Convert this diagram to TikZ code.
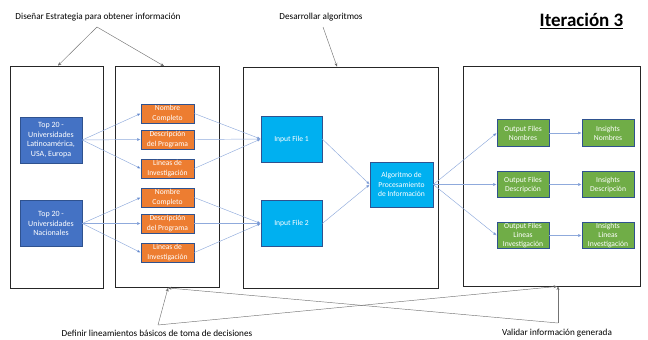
\documentclass[tikz,border=0pt]{standalone}
\usepackage{fontspec}
\setmainfont{Carlito}
\usepackage{tikz}
\usetikzlibrary{arrows.meta}
\definecolor{unicolor}{HTML}{4472C4}
\definecolor{edgecolor}{HTML}{2F528F}
\definecolor{fieldcolor}{HTML}{ED7D31}
\definecolor{inputcolor}{HTML}{00B0F0}
\definecolor{outcolor}{HTML}{70AD47}
\definecolor{flowcolor}{HTML}{8FAADC}

\begin{document}
\begin{tikzpicture}[x=1pt,y=-1pt,
  frame/.style={rectangle,draw=black!85,line width=0.9pt,inner sep=0pt},
  uni/.style={rectangle,draw=edgecolor,fill=unicolor,line width=0.6pt,text=white,align=center,minimum width=62pt,minimum height=46pt,inner sep=0pt,font=\fontsize{8}{9.4}\selectfont},
  field/.style={rectangle,draw=edgecolor,fill=fieldcolor,line width=0.6pt,text=white,align=center,minimum width=53pt,minimum height=19pt,inner sep=0pt,font=\fontsize{7.6}{9.2}\selectfont},
  input/.style={rectangle,draw=edgecolor,fill=inputcolor,line width=0.6pt,text=white,align=center,minimum width=61pt,minimum height=46pt,inner sep=0pt,font=\fontsize{7.6}{9.8}\selectfont},
  outbox/.style={rectangle,draw=edgecolor,fill=outcolor,line width=0.6pt,text=white,align=center,minimum width=52pt,minimum height=26.5pt,inner sep=0pt,font=\fontsize{7.6}{9}\selectfont},
  note/.style={inner sep=0pt,font=\fontsize{9.2}{10}\selectfont},
  flow/.style={draw=flowcolor,line width=0.45pt,-{Latex[length=3.5pt,width=2.8pt,fill=unicolor]}},
  callout/.style={draw=black!55,line width=0.45pt,-{Stealth[length=3.5pt,width=3pt,fill=black]}}
  ]

\useasboundingbox (0,0) rectangle (648,340);

% frames
\node[frame,minimum width=93pt,minimum height=222pt] (f1) at (56.5,177) {};
\node[frame,minimum width=104pt,minimum height=221pt] (f2) at (167,177) {};
\node[frame,minimum width=195pt,minimum height=221pt] (f3) at (340.5,177.5) {};
\node[frame,minimum width=177pt,minimum height=220pt] (f4) at (551.5,176) {};

% universidades
\node[uni] (top-lat) at (51,140) {Top 20 -\\Universidades\\Latinoamérica,\\USA, Europa};
\node[uni] (top-nac) at (51,223.5) {Top 20 -\\Universidades\\Nacionales};

% campos
\node[field] (nom-1) at (167.5,113.5) {Nombre\\Completo};
\node[field] (des-1) at (167.5,139.5) {Descripción\\del Programa};
\node[field] (lin-1) at (167.5,168.5) {Lineas de\\Investigación};
\node[field] (nom-2) at (167.5,197.5) {Nombre\\Completo};
\node[field] (des-2) at (167.5,223.5) {Descripción\\del Programa};
\node[field] (lin-2) at (167.5,252.5) {Lineas de\\Investigación};

% algoritmos
\node[input] (in-1) at (291.5,139) {Input File 1};
\node[input] (in-2) at (291.5,223.5) {Input File 2};
\node[input,minimum width=63pt,minimum height=45pt] (algo) at (401.5,184.5) {Algoritmo de\\Procesamiento\\de Información};

% salidas
\node[outbox] (out-nom) at (523,133) {Output Files\\Nombres};
\node[outbox] (out-des) at (523,184.5) {Output Files\\Descripción};
\node[outbox] (out-lin) at (523,235.5) {Output Files\\Lineas\\Investigación};
\node[outbox] (ins-nom) at (608,133) {Insights\\Nombres};
\node[outbox] (ins-des) at (608,184.5) {Insights\\Descripción};
\node[outbox] (ins-lin) at (608,235.5) {Insights\\Lineas\\Investigación};

% flechas
\foreach \src/\dst in {top-lat/nom-1,top-lat/des-1,top-lat/lin-1,top-nac/nom-2,top-nac/des-2,top-nac/lin-2,
  nom-1/in-1,des-1/in-1,lin-1/in-1,nom-2/in-2,des-2/in-2,lin-2/in-2,
  in-1/algo,in-2/algo,algo/out-nom,algo/out-des,algo/out-lin,
  out-nom/ins-nom,out-des/ins-des,out-lin/ins-lin}
  \draw[flow] (\src.east) -- (\dst.west);

% textos
\node[note] (disenar) at (98,17) {Diseñar Estrategia para obtener información};
\node[note] (desarrollar) at (321,17) {Desarrollar algoritmos};
\node[note] (definir) at (157,333) {Definir lineamientos básicos de toma de decisiones};
\node[note] (validar) at (557,333) {Validar información generada};
\node[inner sep=0pt,font=\fontsize{19}{21}\selectfont\bfseries] (iter) at (581.5,21) {\underline{Iteración 3}};

\coordinate (j-disenar) at (97,27);
\coordinate (j-desarrollar) at (323,27);
\coordinate (j-definir) at (158,325);
\coordinate (j-validar) at (558,323);

\draw[callout] (j-disenar) -- ([xshift=1.5pt]f1.north);
\draw[callout] (j-disenar) -- ([xshift=-3pt]f2.north);
\draw[callout] (j-desarrollar) -- ([xshift=-3.5pt]f3.north);
\draw[callout] (j-definir) -- ([xshift=1pt]f2.south);
\draw[callout] (j-definir) -- ([xshift=5.5pt]f4.south);
\draw[callout] (j-validar) -- ([xshift=6.5pt]f4.south);
\draw[callout] (j-validar) -- ([xshift=1pt]f2.south);

\end{tikzpicture}
\end{document}
